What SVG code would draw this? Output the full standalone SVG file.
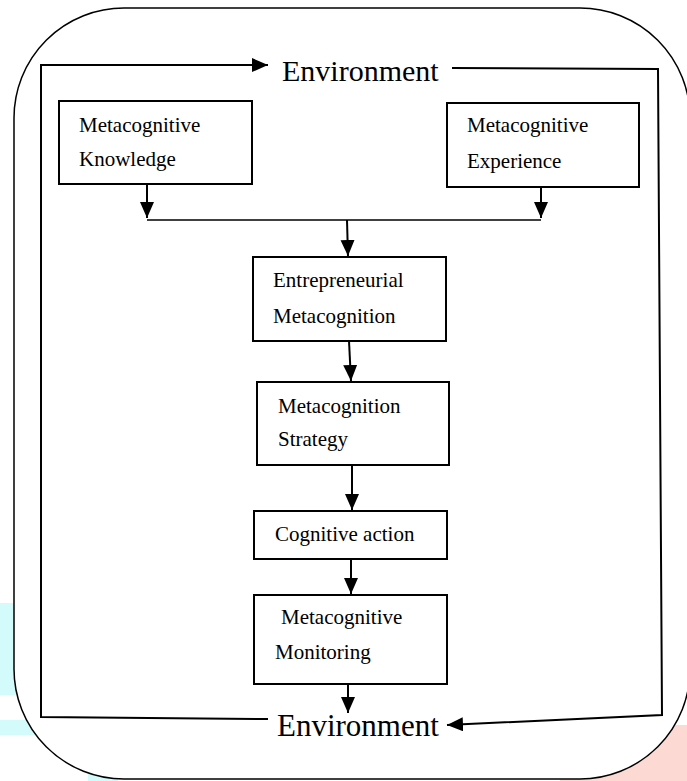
<svg xmlns="http://www.w3.org/2000/svg" width="687" height="781" viewBox="0 0 687 781">
<style>
.box{fill:#fff;stroke:#000;stroke-width:2}
.t{font-family:"Liberation Serif","Times New Roman",serif;font-size:21px;fill:#000}
.env{font-family:"Liberation Serif","Times New Roman",serif;font-size:30px;fill:#000}
.c{fill:none;stroke:#000;stroke-width:2}
.ca{fill:none;stroke:#000;stroke-width:2;marker-end:url(#ah)}
</style>
<defs>
<marker id="ah" markerUnits="userSpaceOnUse" markerWidth="17" markerHeight="15" refX="16" refY="7" orient="auto">
<path d="M0,0 L16,7 L0,14 z" fill="#000"/>
</marker>
</defs>
<g id="background">
<rect x="0" y="603" width="16" height="92" fill="#d4fbfb"/>
<rect x="0" y="720" width="40" height="15" fill="#d4fbfb"/>
<rect x="88" y="774" width="30" height="7" fill="#d4fbfb"/>
<rect x="560" y="725" width="127" height="56" fill="#fdd9d3"/>
<rect x="14" y="8" width="676" height="771" rx="110" ry="110" fill="#fff" stroke="#000" stroke-width="1.5"/>
</g>
<g id="connectors">
<path class="ca" d="M268,719 L41,717 L41,65 L268,65"/>
<path class="ca" d="M452,68 L658,69 L662,715 L447,725"/>
<path class="ca" d="M147,184 L147,218"/>
<path class="ca" d="M541,187 L541,218"/>
<path class="c" d="M147,220 L541,220" style="stroke-width:1.5"/>
<path class="ca" d="M347,220 L348,256"/>
<path class="ca" d="M349,341 L351,381"/>
<path class="ca" d="M352,465 L352,510"/>
<path class="ca" d="M351,559 L351,594"/>
<path class="ca" d="M348,684 L348,713"/>
</g>
<g id="env-top"><text class="env" x="282" y="81">Environment</text></g>
<g id="env-bottom"><text class="env" x="277" y="736" style="font-size:31px">Environment</text></g>
<g id="knowledge">
<rect class="box" x="59" y="101" width="193" height="83"/>
<text class="t" x="79" y="132">Metacognitive</text>
<text class="t" x="79" y="166">Knowledge</text>
</g>
<g id="experience">
<rect class="box" x="447" y="103" width="192" height="84"/>
<text class="t" x="467" y="132">Metacognitive</text>
<text class="t" x="467" y="168">Experience</text>
</g>
<g id="entrepreneurial">
<rect class="box" x="253" y="257" width="193" height="84"/>
<text class="t" x="273" y="287">Entrepreneurial</text>
<text class="t" x="273" y="323">Metacognition</text>
</g>
<g id="strategy">
<rect class="box" x="257" y="382" width="192" height="83"/>
<text class="t" x="278" y="413">Metacognition</text>
<text class="t" x="278" y="446">Strategy</text>
</g>
<g id="action">
<rect class="box" x="254" y="511" width="193" height="48"/>
<text class="t" x="275" y="541">Cognitive action</text>
</g>
<g id="monitoring">
<rect class="box" x="254" y="595" width="193" height="89"/>
<text class="t" x="281" y="624">Metacognitive</text>
<text class="t" x="275" y="659">Monitoring</text>
</g>
</svg>
